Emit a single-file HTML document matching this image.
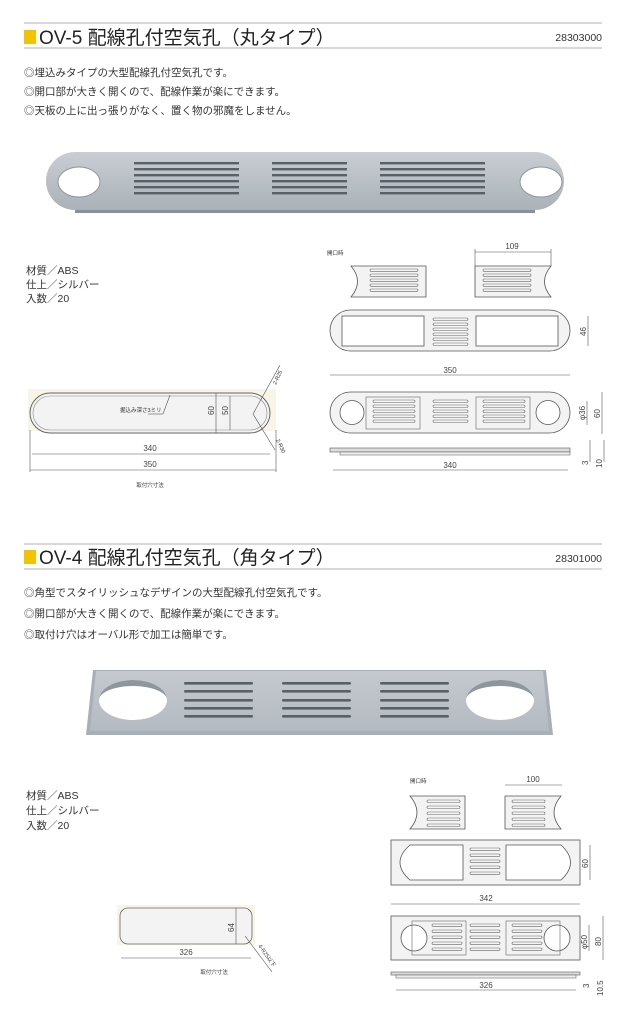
<!DOCTYPE html>
<html><head><meta charset="utf-8"><style>
body{margin:0;background:#fff}
svg{display:block}
text{font-family:"Liberation Sans","Noto Sans CJK JP",sans-serif;fill:#333}
.t{font-size:19px;fill:#222}
.b{font-size:10.5px;fill:#333}
.s{font-size:5.5px}
.d{font-size:8px;fill:#444}
.ln{stroke:#555;stroke-width:.6;fill:none}
.sh{fill:#f3f3f3;stroke:#555;stroke-width:.8}
</style></head><body>
<svg width="627" height="1024" viewBox="0 0 627 1024">
<defs>
<linearGradient id="pg" x1="0" y1="0" x2="0" y2="1"><stop offset="0" stop-color="#c9ced4"/><stop offset="1" stop-color="#aab1b8"/></linearGradient>
<linearGradient id="pg2" x1="0" y1="0" x2="0" y2="1"><stop offset="0" stop-color="#c4c9cf"/><stop offset="1" stop-color="#b4bac1"/></linearGradient>
</defs>
<line x1="24" y1="23" x2="602" y2="23" stroke="#999" stroke-width=".8"/>
<line x1="24" y1="48" x2="602" y2="48" stroke="#999" stroke-width=".8"/>
<rect x="24" y="30" width="12" height="14" fill="#f1c400"/>
<text x="39" y="44" class="t">OV-5 配線孔付空気孔（丸タイプ）</text>
<text x="602" y="41" font-size="10.5" text-anchor="end">28303000</text>
<text x="24" y="76" class="b">◎埋込みタイプの大型配線孔付空気孔です。</text>
<text x="24" y="95" class="b">◎開口部が大きく開くので、配線作業が楽にできます。</text>
<text x="24" y="114" class="b">◎天板の上に出っ張りがなく、置く物の邪魔をしません。</text>
<rect x="75" y="205" width="460" height="8" fill="#8a9097"/>
<rect x="46" y="152" width="518" height="58" rx="29" fill="url(#pg)"/>
<ellipse cx="79" cy="182" rx="21" ry="15" fill="#fff" stroke="#8d949b"/>
<ellipse cx="541" cy="182" rx="21" ry="15" fill="#fff" stroke="#8d949b"/>
<g fill="#5a6068">
<rect x="134" y="162" width="105" height="2.4"/><rect x="134" y="168" width="105" height="2.4"/><rect x="134" y="174" width="105" height="2.4"/><rect x="134" y="180" width="105" height="2.4"/><rect x="134" y="186" width="105" height="2.4"/><rect x="134" y="192" width="105" height="2.4"/>
<rect x="272" y="162" width="75" height="2.4"/><rect x="272" y="168" width="75" height="2.4"/><rect x="272" y="174" width="75" height="2.4"/><rect x="272" y="180" width="75" height="2.4"/><rect x="272" y="186" width="75" height="2.4"/><rect x="272" y="192" width="75" height="2.4"/>
<rect x="380" y="162" width="105" height="2.4"/><rect x="380" y="168" width="105" height="2.4"/><rect x="380" y="174" width="105" height="2.4"/><rect x="380" y="180" width="105" height="2.4"/><rect x="380" y="186" width="105" height="2.4"/><rect x="380" y="192" width="105" height="2.4"/>
</g>
<text x="26" y="274" class="b" font-size="9">材質／ABS</text>
<text x="26" y="288" class="b" font-size="9">仕上／シルバー</text>
<text x="26" y="302" class="b" font-size="9">入数／20</text>
<rect x="28" y="389" width="248" height="42" fill="#f7f6e6"/>
<rect x="30" y="393" width="240" height="40" rx="20" fill="#f3f3f3" stroke="#666" stroke-width="1"/>
<rect x="33" y="396" width="234" height="34" rx="17" fill="none" stroke="#888" stroke-width=".6"/>
<text x="120" y="412" class="s" font-size="6.5">掘込み深さ3ミリ</text>
<line x1="148" y1="414" x2="163" y2="414" class="ln"/><line x1="163" y1="414" x2="170" y2="395" class="ln"/>
<line x1="216" y1="393" x2="216" y2="433" class="ln"/><line x1="230" y1="396" x2="230" y2="430" class="ln"/>
<text x="0" y="0" class="d" transform="translate(214,415) rotate(-90)">60</text>
<text x="0" y="0" class="d" transform="translate(228,415) rotate(-90)">50</text>
<line x1="253" y1="414" x2="280" y2="365" class="ln"/><line x1="253" y1="414" x2="275" y2="450" class="ln"/>
<text class="s" transform="translate(276,385) rotate(-65)" font-size="6">2-R25</text>
<text class="s" transform="translate(276,440) rotate(65)" font-size="6">2-R30</text>
<line x1="32" y1="454" x2="270" y2="454" class="ln"/><line x1="30" y1="470" x2="276" y2="470" class="ln"/>
<line x1="30" y1="430" x2="30" y2="472" class="ln"/><line x1="276" y1="430" x2="276" y2="472" class="ln"/>
<text x="150" y="451" class="d" text-anchor="middle">340</text>
<text x="150" y="467" class="d" text-anchor="middle">350</text>
<text x="150" y="487" class="s" font-size="6" text-anchor="middle">取付穴寸法</text>
<text x="327" y="255" class="s" font-size="6">開口時</text>
<line x1="475" y1="252" x2="551" y2="252" class="ln"/><text x="512" y="249" class="d" text-anchor="middle">109</text>
<line x1="475" y1="249" x2="475" y2="266" class="ln"/><line x1="551" y1="249" x2="551" y2="266" class="ln"/>
<path d="M351 266 H426 V297 H351 Q364 281.5 351 266 Z" class="sh"/>
<path d="M475 266 H551 Q538 281.5 551 297 H475 Z" class="sh"/>
<g fill="none" stroke="#666" stroke-width=".6">
<rect x="370" y="269" width="48" height="2.3" rx="1.1"/><rect x="370" y="274" width="48" height="2.3" rx="1.1"/><rect x="370" y="279" width="48" height="2.3" rx="1.1"/><rect x="370" y="284" width="48" height="2.3" rx="1.1"/><rect x="370" y="289" width="48" height="2.3" rx="1.1"/>
<rect x="483" y="269" width="48" height="2.3" rx="1.1"/><rect x="483" y="274" width="48" height="2.3" rx="1.1"/><rect x="483" y="279" width="48" height="2.3" rx="1.1"/><rect x="483" y="284" width="48" height="2.3" rx="1.1"/><rect x="483" y="289" width="48" height="2.3" rx="1.1"/>
</g>
<rect x="330" y="310" width="240" height="41" rx="20.5" class="sh"/>
<rect x="342" y="316" width="82" height="30" fill="#fff" stroke="#555" stroke-width=".8"/>
<rect x="476" y="316" width="82" height="30" fill="#fff" stroke="#555" stroke-width=".8"/>
<g fill="none" stroke="#666" stroke-width=".6">
<rect x="433" y="318" width="35" height="2.5" rx="1.2"/><rect x="433" y="323" width="35" height="2.5" rx="1.2"/><rect x="433" y="328" width="35" height="2.5" rx="1.2"/><rect x="433" y="333" width="35" height="2.5" rx="1.2"/><rect x="433" y="338" width="35" height="2.5" rx="1.2"/><rect x="433" y="343" width="35" height="2.5" rx="1.2"/>
</g>
<line x1="588" y1="316" x2="588" y2="346" class="ln"/><text class="d" transform="translate(586,336) rotate(-90)">46</text>
<line x1="330" y1="375" x2="570" y2="375" class="ln"/><text x="450" y="373" class="d" text-anchor="middle">350</text>
<rect x="330" y="392" width="240" height="41" rx="20.5" class="sh"/>
<circle cx="352" cy="412.5" r="12" fill="#fff" stroke="#555" stroke-width=".8"/>
<circle cx="548" cy="412.5" r="12" fill="#fff" stroke="#555" stroke-width=".8"/>
<rect x="366" y="397" width="54" height="32" fill="none" stroke="#666" stroke-width=".6"/>
<rect x="476" y="397" width="54" height="32" fill="none" stroke="#666" stroke-width=".6"/>
<g fill="none" stroke="#666" stroke-width=".6">
<rect x="373" y="400" width="42" height="2.5" rx="1.2"/><rect x="373" y="405" width="42" height="2.5" rx="1.2"/><rect x="373" y="410" width="42" height="2.5" rx="1.2"/><rect x="373" y="415" width="42" height="2.5" rx="1.2"/><rect x="373" y="420" width="42" height="2.5" rx="1.2"/>
<rect x="433" y="400" width="35" height="2.5" rx="1.2"/><rect x="433" y="405" width="35" height="2.5" rx="1.2"/><rect x="433" y="410" width="35" height="2.5" rx="1.2"/><rect x="433" y="415" width="35" height="2.5" rx="1.2"/><rect x="433" y="420" width="35" height="2.5" rx="1.2"/>
<rect x="483" y="400" width="42" height="2.5" rx="1.2"/><rect x="483" y="405" width="42" height="2.5" rx="1.2"/><rect x="483" y="410" width="42" height="2.5" rx="1.2"/><rect x="483" y="415" width="42" height="2.5" rx="1.2"/><rect x="483" y="420" width="42" height="2.5" rx="1.2"/>
</g>
<line x1="587" y1="401" x2="587" y2="425" class="ln"/><text class="d" transform="translate(585,420) rotate(-90)">φ36</text>
<line x1="602" y1="392" x2="602" y2="434" class="ln"/><text class="d" transform="translate(600,418) rotate(-90)">60</text>
<rect x="330" y="448" width="240" height="4" fill="#ddd" stroke="#555" stroke-width=".6"/>
<rect x="340" y="452" width="230" height="3" fill="#eee" stroke="#555" stroke-width=".5"/>
<line x1="333" y1="470" x2="568" y2="470" class="ln"/><text x="450" y="468" class="d" text-anchor="middle">340</text>
<text class="d" font-size="6.5" transform="translate(588,465) rotate(-90)">3</text>
<text class="d" font-size="6.5" transform="translate(602,468) rotate(-90)">10</text>
<line x1="590" y1="440" x2="590" y2="462" class="ln"/><line x1="604" y1="440" x2="604" y2="462" class="ln"/>
<line x1="24" y1="544" x2="602" y2="544" stroke="#999" stroke-width=".8"/>
<line x1="24" y1="569" x2="602" y2="569" stroke="#999" stroke-width=".8"/>
<rect x="24" y="550" width="12" height="14" fill="#f1c400"/>
<text x="39" y="564" class="t">OV-4 配線孔付空気孔（角タイプ）</text>
<text x="602" y="562" font-size="10.5" text-anchor="end">28301000</text>
<text x="24" y="596" class="b">◎角型でスタイリッシュなデザインの大型配線孔付空気孔です。</text>
<text x="24" y="617" class="b">◎開口部が大きく開くので、配線作業が楽にできます。</text>
<text x="24" y="638" class="b">◎取付け穴はオーバル形で加工は簡単です。</text>
<path d="M93 670 H546 L553 735 H86 Z" fill="#a9afb6"/>
<path d="M96 671 H543 L549 731 H90 Z" fill="url(#pg2)"/>
<ellipse cx="133" cy="700" rx="34" ry="20" fill="#fff"/>
<path d="M99 700 A34 20 0 0 1 167 700 A34 14 0 0 0 99 700 Z" fill="#8f969d"/>
<ellipse cx="500" cy="700" rx="34" ry="20" fill="#fff"/>
<path d="M466 700 A34 20 0 0 1 534 700 A34 14 0 0 0 466 700 Z" fill="#8f969d"/>
<g fill="#5a6068">
<rect x="184" y="682" width="69" height="2.6" rx="1.3"/><rect x="184" y="690" width="69" height="2.6" rx="1.3"/><rect x="184" y="699" width="69" height="2.6" rx="1.3"/><rect x="184" y="707" width="69" height="2.6" rx="1.3"/><rect x="184" y="715" width="69" height="2.6" rx="1.3"/>
<rect x="282" y="682" width="69" height="2.6" rx="1.3"/><rect x="282" y="690" width="69" height="2.6" rx="1.3"/><rect x="282" y="699" width="69" height="2.6" rx="1.3"/><rect x="282" y="707" width="69" height="2.6" rx="1.3"/><rect x="282" y="715" width="69" height="2.6" rx="1.3"/>
<rect x="380" y="682" width="69" height="2.6" rx="1.3"/><rect x="380" y="690" width="69" height="2.6" rx="1.3"/><rect x="380" y="699" width="69" height="2.6" rx="1.3"/><rect x="380" y="707" width="69" height="2.6" rx="1.3"/><rect x="380" y="715" width="69" height="2.6" rx="1.3"/>
</g>
<text x="26" y="799" class="b" font-size="9">材質／ABS</text>
<text x="26" y="814" class="b" font-size="9">仕上／シルバー</text>
<text x="26" y="829" class="b" font-size="9">入数／20</text>
<rect x="117" y="905" width="138" height="40" fill="#f7f6e6"/>
<rect x="120" y="908" width="132" height="36" rx="8" fill="#f3f3f3" stroke="#666" stroke-width=".8"/>
<line x1="236" y1="908" x2="236" y2="944" class="ln"/><text class="d" transform="translate(234,932) rotate(-90)">64</text>
<line x1="245" y1="936" x2="272" y2="972" class="ln"/>
<text class="s" font-size="6" transform="translate(258,946) rotate(55)">4-R25以下</text>
<line x1="121" y1="958" x2="251" y2="958" class="ln"/><text x="186" y="955" class="d" text-anchor="middle">326</text>
<text x="214" y="974" class="s" font-size="6" text-anchor="middle">取付穴寸法</text>
<text x="410" y="783" class="s" font-size="6">開口時</text>
<line x1="505" y1="785" x2="562" y2="785" class="ln"/><text x="533" y="782" class="d" text-anchor="middle">100</text>
<path d="M410 796 H465 V829 H410 Q424 812.5 410 796 Z" class="sh"/>
<path d="M505 796 H561 Q547 812.5 561 829 H505 Z" class="sh"/>
<g fill="none" stroke="#666" stroke-width=".6">
<rect x="427" y="800" width="33" height="2.5" rx="1.2"/><rect x="427" y="806" width="33" height="2.5" rx="1.2"/><rect x="427" y="812" width="33" height="2.5" rx="1.2"/><rect x="427" y="818" width="33" height="2.5" rx="1.2"/><rect x="427" y="824" width="33" height="2.5" rx="1.2"/>
<rect x="512" y="800" width="33" height="2.5" rx="1.2"/><rect x="512" y="806" width="33" height="2.5" rx="1.2"/><rect x="512" y="812" width="33" height="2.5" rx="1.2"/><rect x="512" y="818" width="33" height="2.5" rx="1.2"/><rect x="512" y="824" width="33" height="2.5" rx="1.2"/>
</g>
<rect x="391" y="840" width="189" height="45" class="sh" stroke-width="1"/>
<path d="M410 845 H463 V880 H410 Q390 862.5 410 845 Z" fill="#fff" stroke="#555" stroke-width=".8"/>
<path d="M506 845 H561 Q580 862.5 561 880 H506 Z" fill="#fff" stroke="#555" stroke-width=".8"/>
<g fill="none" stroke="#666" stroke-width=".6">
<rect x="470" y="848" width="30" height="2.3" rx="1.1"/><rect x="470" y="854" width="30" height="2.3" rx="1.1"/><rect x="470" y="860" width="30" height="2.3" rx="1.1"/><rect x="470" y="866" width="30" height="2.3" rx="1.1"/><rect x="470" y="872" width="30" height="2.3" rx="1.1"/>
</g>
<line x1="590" y1="845" x2="590" y2="880" class="ln"/><text class="d" transform="translate(588,868) rotate(-90)">60</text>
<line x1="391" y1="904" x2="580" y2="904" class="ln"/><text x="486" y="901" class="d" text-anchor="middle">342</text>
<rect x="391" y="916" width="189" height="44" class="sh" stroke-width="1"/>
<circle cx="414" cy="938" r="13" fill="#fff" stroke="#555" stroke-width=".8"/>
<circle cx="557" cy="938" r="13" fill="#fff" stroke="#555" stroke-width=".8"/>
<rect x="412" y="921" width="54" height="34" fill="none" stroke="#666" stroke-width=".6"/>
<rect x="506" y="921" width="54" height="34" fill="none" stroke="#666" stroke-width=".6"/>
<g fill="none" stroke="#666" stroke-width=".6">
<rect x="432" y="924" width="30" height="2.3" rx="1.1"/><rect x="432" y="930" width="30" height="2.3" rx="1.1"/><rect x="432" y="936" width="30" height="2.3" rx="1.1"/><rect x="432" y="942" width="30" height="2.3" rx="1.1"/><rect x="432" y="948" width="30" height="2.3" rx="1.1"/>
<rect x="470" y="924" width="30" height="2.3" rx="1.1"/><rect x="470" y="930" width="30" height="2.3" rx="1.1"/><rect x="470" y="936" width="30" height="2.3" rx="1.1"/><rect x="470" y="942" width="30" height="2.3" rx="1.1"/><rect x="470" y="948" width="30" height="2.3" rx="1.1"/>
<rect x="512" y="924" width="30" height="2.3" rx="1.1"/><rect x="512" y="930" width="30" height="2.3" rx="1.1"/><rect x="512" y="936" width="30" height="2.3" rx="1.1"/><rect x="512" y="942" width="30" height="2.3" rx="1.1"/><rect x="512" y="948" width="30" height="2.3" rx="1.1"/>
</g>
<line x1="589" y1="925" x2="589" y2="951" class="ln"/><text class="d" transform="translate(587,949) rotate(-90)">φ50</text>
<line x1="603" y1="916" x2="603" y2="960" class="ln"/><text class="d" transform="translate(601,946) rotate(-90)">80</text>
<rect x="391" y="972" width="189" height="3" fill="#ddd" stroke="#555" stroke-width=".6"/>
<rect x="396" y="975" width="180" height="3" fill="#eee" stroke="#555" stroke-width=".5"/>
<line x1="396" y1="990" x2="576" y2="990" class="ln"/><text x="486" y="988" class="d" text-anchor="middle">326</text>
<text class="d" font-size="6.5" transform="translate(589,988) rotate(-90)">3</text>
<text class="d" font-size="6.5" transform="translate(603,996) rotate(-90)">10.5</text>
</svg>
</body></html>
